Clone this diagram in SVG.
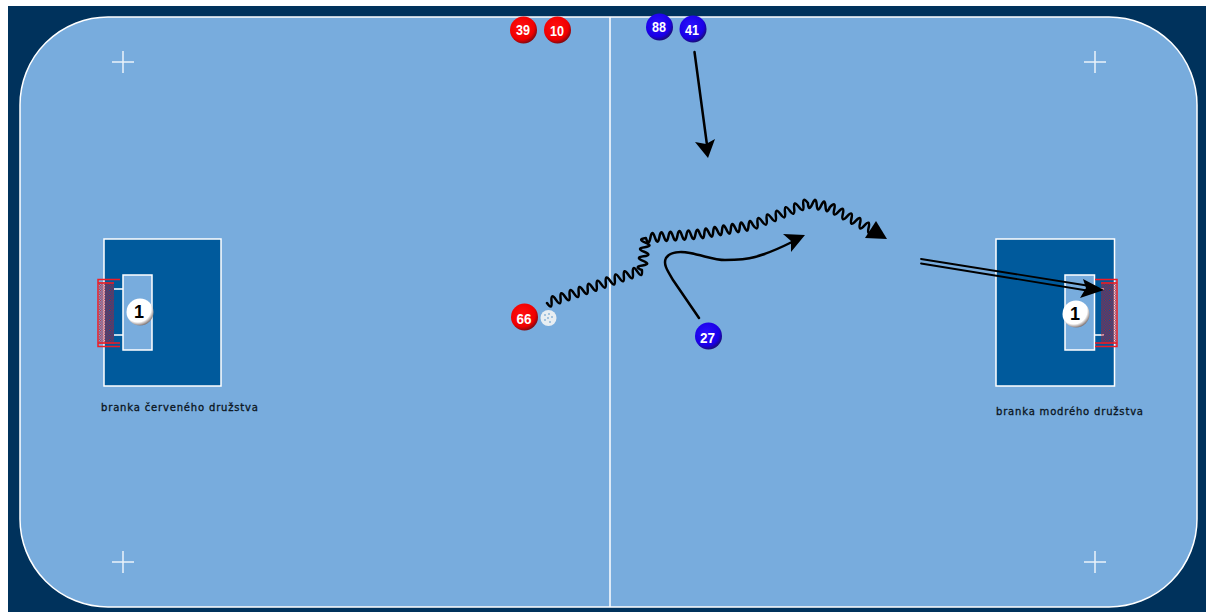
<svg xmlns="http://www.w3.org/2000/svg" width="1206" height="612" viewBox="0 0 1206 612">
<style>
.line{fill:none;stroke:#fff;stroke-width:1.500}
.cross{fill:none;stroke:#fff;stroke-width:1.500;stroke-opacity:.85}
.box{stroke:#fff;stroke-width:1.500}
.big{fill:#005a9c}
.crease{fill:#78acdd}
.goal{fill:none;stroke:#ee1c25;stroke-width:1.500}
.arrow{fill:none;stroke:#000;stroke-width:2.500;stroke-linecap:round;stroke-linejoin:round}
.head{fill:#000;stroke:none}
.num{font:bold 14px "Liberation Sans",Arial,sans-serif;fill:#fff;text-anchor:middle}
.gk{font:bold 18px "Liberation Sans",Arial,sans-serif;fill:#000;text-anchor:middle}
.cap{font:10px "DejaVu Sans",sans-serif;fill:#0a1420;stroke:#0a1420;stroke-width:.3}
</style>
<defs>
<radialGradient id="red" cx="0.42" cy="0.38" r="0.66"><stop offset="0" stop-color="#ff1010"/><stop offset="0.72" stop-color="#f00000"/><stop offset="1" stop-color="#6a0a14"/></radialGradient>
<radialGradient id="blue" cx="0.42" cy="0.38" r="0.66"><stop offset="0" stop-color="#2a10ff"/><stop offset="0.72" stop-color="#1a00e6"/><stop offset="1" stop-color="#181060"/></radialGradient>
<radialGradient id="white" cx="0.42" cy="0.38" r="0.68"><stop offset="0" stop-color="#fff"/><stop offset="0.72" stop-color="#fff"/><stop offset="1" stop-color="#5a4a48"/></radialGradient>
<pattern id="net" width="2.500" height="2.500" patternUnits="userSpaceOnUse"><rect width="1.250" height="1.250" fill="#c81828" fill-opacity=".85"/><rect x="1.250" y="1.250" width="1.250" height="1.250" fill="#c81828" fill-opacity=".85"/></pattern>
</defs>
<rect width="1206" height="612" fill="#fff"/>
<rect x="8" y="6" width="1198" height="606" fill="#00325c"/>
<g id="rink">
<rect x="20" y="17" width="1177" height="590" rx="88" ry="88" fill="#78acdd" stroke="#fff" stroke-width="1.500"/>
<path class="line" d="M610 17V607"/>
<path class="cross" d="M112 62H134M123 51V73M1084 62H1106M1095 51V73M112 562H134M123 551V573M1084 562H1106M1095 551V573"/>
</g>
<g id="goal-red">
<rect class="box big" x="104" y="239" width="117" height="147"/>
<rect class="box crease" x="123" y="275" width="29" height="75"/>
<path class="line" d="M114 289H123M114 335H123"/>
<rect x="99" y="282" width="15" height="62" fill="url(#net)"/>
<path class="goal" d="M120 279.500H98V346.500H120M98 283H114M98 343H120"/>
<text class="cap" x="101" y="411" textLength="157">branka červeného družstva</text>
</g>
<g id="goal-blue">
<rect class="box big" x="996" y="239" width="118.500" height="147"/>
<rect class="box crease" x="1065" y="275" width="29.500" height="75"/>
<path class="line" d="M1095 289H1104M1095 335H1104"/>
<rect x="1101" y="282" width="15" height="62" fill="url(#net)"/>
<path class="goal" d="M1095 279.500H1117V346.500H1095M1117 283H1101M1117 343H1095"/>
<text class="cap" x="996" y="415" textLength="147">branka modrého družstva</text>
</g>
<g id="connectors">
<g id="arrow-41"><path class="arrow" d="M694.500 52L707 145"/><path class="head" d="M695 142L706 144L715 139L708 158Z"/></g>
<g id="arrow-27"><path class="arrow" d="M699 318L673 280C667 270 663 264 666 258C670 252 680 251 690 253C705 256 715 260 725 260C735 260 745 260 755 257C770 253 780 248 792 242"/><path class="head" d="M783 234L791 241L791 252L805 235Z"/></g>
<g id="arrow-66"><path class="arrow" d="M547 303
q5.260 7.700 4.520 -1.570 q-.74 -9.300 4.520 -1.570
q5.260 7.700 4.520 -1.570 q-.74 -9.300 4.520 -1.570
q5.260 7.700 4.520 -1.570 q-.74 -9.300 4.520 -1.570
q5.260 7.700 4.520 -1.570 q-.74 -9.300 4.520 -1.570
q5.260 7.700 4.520 -1.570 q-.74 -9.300 4.520 -1.570
q5.260 7.700 4.520 -1.570 q-.74 -9.300 4.520 -1.570
q5.260 7.700 4.520 -1.570 q-.74 -9.300 4.520 -1.570
q5.260 7.700 4.520 -1.570 q-.74 -9.300 4.520 -1.570
q5.260 7.700 4.520 -1.570 q-.74 -9.300 4.520 -1.570
q5.260 7.700 4.520 -1.570 q-.74 -9.300 4.520 -1.570
q5.260 7.700 4.520 -1.570
q-8.600 -3.400 .57 -4.570 q9.200 -1.200 .57 -4.570
q-8.600 -3.400 .57 -4.570 q9.200 -1.200 .57 -4.570
q-8.600 -3.400 .57 -4.570 q9.200 -1.200 .57 -4.570
q-8.600 -3.400 .57 -4.570
q2.850 8.800 4.500 -.33 q1.650 -9.200 4.500 -.33
q2.850 8.800 4.500 -.33 q1.650 -9.200 4.500 -.33
q2.850 8.800 4.500 -.33 q1.650 -9.200 4.500 -.33
q2.850 8.800 4.500 -.33 q1.650 -9.200 4.500 -.33
q2.850 8.800 4.500 -.33 q1.650 -9.200 4.500 -.33
q2.850 8.800 4.500 -.33 q1.650 -9.200 4.500 -.33
q3.700 8.500 4.420 -.75 q.7 -9.300 4.420 -.75
q3.700 8.500 4.420 -.75 q.7 -9.300 4.420 -.75
q3.700 8.500 4.420 -.75 q.7 -9.300 4.420 -.75
q3.700 8.500 4.420 -.75 q.7 -9.300 4.420 -.75
q3.700 8.500 4.420 -.75 q.7 -9.300 4.420 -.75
q3.700 8.500 4.420 -.75 q.7 -9.300 4.420 -.75
q5.600 7.500 4.580 -1.830 q-1 -9.300 4.580 -1.830
q5.600 7.500 4.580 -1.830 q-1 -9.300 4.580 -1.830
q5.600 7.500 4.580 -1.830 q-1 -9.300 4.580 -1.830
q5.600 7.500 4.580 -1.830 q-1 -9.300 4.580 -1.830
q5.600 7.500 4.580 -1.830 q-1 -9.300 4.580 -1.830
q5.600 7.500 4.580 -1.830 q-1 -9.300 4.580 -1.830
q.6 9.300 4.400 .8 q3.800 -8.500 4.400 .8
q.6 9.300 4.400 .8 q3.800 -8.500 4.400 .8
q.6 9.300 4.400 .8
q6.350 -6.750 4.300 2.300 q-2.050 9.050 4.300 2.300
q6.350 -6.750 4.300 2.300 q-2.050 9.050 4.300 2.300
q6.350 -6.750 4.300 2.300 q-2.050 9.050 4.300 2.300
q6.350 -6.750 4.300 2.300 q-2.050 9.050 4.300 2.300
q6.350 -6.750 4.300 2.300 q-2.050 9.050 4.300 2.300"/><path class="head" d="M876 221L865 238L887 239Z"/></g>
<g id="arrow-pass"><path class="arrow" style="stroke-width:1.800" d="M921 259L1090 286M921 263.500L1090 291"/><path class="head" d="M1083 279L1086 288L1080 298L1104 290Z"/></g>
</g>
<g id="player-39"><circle cx="523.500" cy="30" r="13.500" fill="url(#red)"/><text class="num" x="523" y="35" textLength="14" lengthAdjust="spacingAndGlyphs">39</text></g>
<g id="player-10"><circle cx="557.500" cy="30" r="13.500" fill="url(#red)"/><text class="num" x="557" y="36" textLength="14" lengthAdjust="spacingAndGlyphs">10</text></g>
<g id="player-88"><circle cx="659.500" cy="27" r="13.500" fill="url(#blue)"/><text class="num" x="659" y="32" textLength="14" lengthAdjust="spacingAndGlyphs">88</text></g>
<g id="player-41"><circle cx="693" cy="29" r="13.500" fill="url(#blue)"/><text class="num" x="692" y="35" textLength="14" lengthAdjust="spacingAndGlyphs">41</text></g>
<g id="player-66"><circle cx="524.500" cy="317" r="13.500" fill="url(#red)"/><text class="num" x="524" y="324" textLength="15" lengthAdjust="spacingAndGlyphs">66</text></g>
<g id="player-27"><circle cx="708.500" cy="336" r="13.500" fill="url(#blue)"/><text class="num" x="707.500" y="343" textLength="15" lengthAdjust="spacingAndGlyphs">27</text></g>
<g id="ball"><circle cx="548.500" cy="318" r="8" fill="#e8eef2"/><g fill="#8fb6d8"><circle cx="545" cy="315" r="1"/><circle cx="549" cy="314" r="1"/><circle cx="552" cy="317" r="1"/><circle cx="548" cy="318" r="1"/><circle cx="545" cy="320" r="1"/><circle cx="550" cy="322" r="1"/></g></g>
<g id="goalie-red"><circle cx="140" cy="312" r="13.500" fill="url(#white)"/><text class="gk" x="139" y="318">1</text></g>
<g id="goalie-blue"><circle cx="1076" cy="314" r="13.500" fill="url(#white)"/><text class="gk" x="1075" y="320">1</text></g>
</svg>
